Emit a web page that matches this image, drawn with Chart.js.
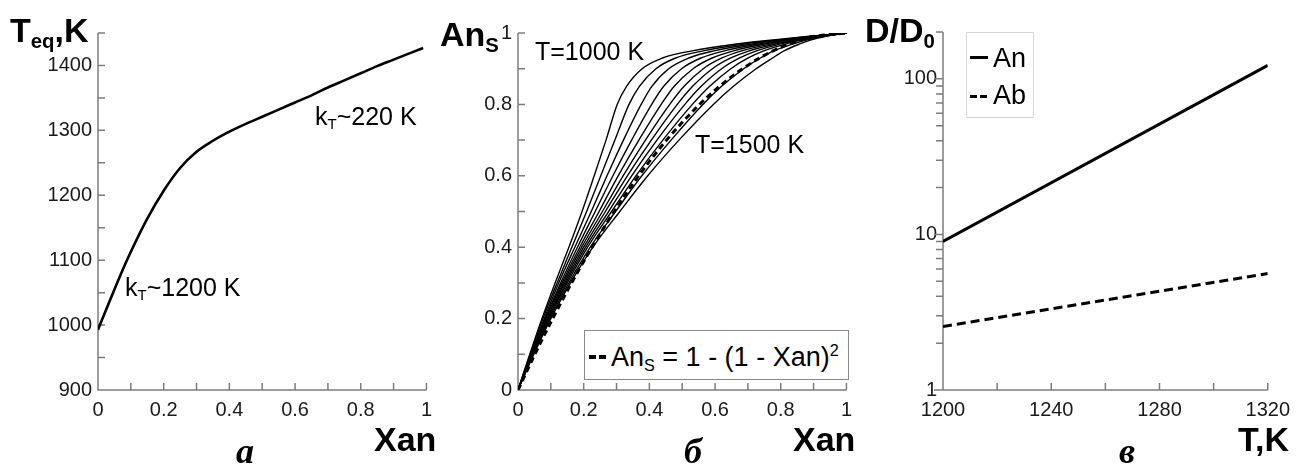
<!DOCTYPE html>
<html>
<head>
<meta charset="utf-8">
<script src="https://cdn.jsdelivr.net/npm/chart.js@4.4.1/dist/chart.umd.min.js"></script>
<style>
html, body { margin: 0; padding: 0; background: #fff; }
#fig { position: relative; width: 1298px; height: 464px; overflow: hidden;
       font-family: "Liberation Sans", Arial, sans-serif; color: #000; }
#fig canvas { position: absolute; top: 0; }
.t { position: absolute; line-height: 1; white-space: nowrap; }
.ttl { font-weight: bold; font-size: 34px; }
.ann { font-size: 25px; }
.leg { font-size: 27px; }
.let { font-family: "Liberation Serif", serif; font-weight: bold; font-style: italic;
       font-size: 36px; width: 40px; text-align: center; }
sub { font-size: 0.6em; vertical-align: -0.28em; line-height: 0; }
sup { font-size: 0.6em; vertical-align: 0.6em; line-height: 0; }
.box { position: absolute; background: #fff; box-sizing: border-box; }
.mk { position: absolute; background: #000; }
</style>
</head>
<body>
<div id="fig">
  <canvas id="cA" width="440" height="464" style="left:0px;width:440px;height:464px"></canvas>
  <canvas id="cB" width="420" height="464" style="left:440px;width:420px;height:464px"></canvas>
  <canvas id="cC" width="438" height="464" style="left:860px;width:438px;height:464px"></canvas>

  <!-- panel а -->
  <div class="t ttl" style="left:10px;top:13px">T<sub>eq</sub>,K</div>
  <div class="t ttl" style="left:374px;top:422px">Xan</div>
  <div class="t ann" style="left:315px;top:104px">k<sub>T</sub>~220 K</div>
  <div class="t ann" style="left:125px;top:275px">k<sub>T</sub>~1200 K</div>
  <div class="t let" style="left:225px;top:433px">а</div>

  <!-- panel б -->
  <div class="t ttl" style="left:440px;top:17px">An<sub>S</sub></div>
  <div class="t ttl" style="left:793px;top:422px">Xan</div>
  <div class="t ann" style="left:535px;top:39px">T=1000 K</div>
  <div class="t ann" style="left:695px;top:132px">T=1500 K</div>
  <div class="t let" style="left:673px;top:433px">б</div>
  <div class="box" style="left:584px;top:330px;width:265px;height:50px;border:1px solid #8a8a8a"></div>
  <div class="mk" style="left:589px;top:355px;width:7px;height:3.5px"></div>
  <div class="mk" style="left:599px;top:355px;width:7px;height:3.5px"></div>
  <div class="t leg" style="left:611px;top:344px">An<sub>S</sub> = 1 - (1 - Xan)<sup>2</sup></div>

  <!-- panel в -->
  <div class="t ttl" style="left:865px;top:13px">D/D<sub>0</sub></div>
  <div class="t ttl" style="left:1238px;top:422px">T,K</div>
  <div class="t let" style="left:1107px;top:433px">в</div>
  <div class="box" style="left:966px;top:32px;width:68px;height:86px;border:1px solid #d8d8d8"></div>
  <div class="mk" style="left:970px;top:56px;width:18px;height:3px"></div>
  <div class="t leg" style="left:993px;top:45px">An</div>
  <div class="mk" style="left:970px;top:95px;width:7px;height:3px"></div>
  <div class="mk" style="left:980px;top:95px;width:7px;height:3px"></div>
  <div class="t leg" style="left:993px;top:82px">Ab</div>
</div>

<script>
// ---- panel а: equilibrium temperature vs anatase fraction ----
const xanA = [0, 0.025, 0.05, 0.075, 0.1, 0.15, 0.2, 0.25, 0.3, 0.35, 0.4, 0.45,
              0.5, 0.55, 0.6, 0.65, 0.7, 0.75, 0.8, 0.85, 0.9, 0.95, 0.99];
const teqA = [993, 1024, 1055, 1085, 1113, 1164, 1207, 1242, 1267, 1284, 1298, 1310,
              1321, 1332, 1343, 1354, 1366, 1377, 1388, 1399, 1409, 1419, 1427];
const ticksXA = [0, 0.2, 0.4, 0.6, 0.8, 1];
const ticksYA = [900, 1000, 1100, 1200, 1300, 1400];

// ---- panel б: bulk fraction Xan reached at each surface fraction An_S ----
const anSLevels = [0, 0.1, 0.2, 0.3, 0.4, 0.5, 0.6, 0.7, 0.8, 0.85, 0.9, 0.93, 0.95, 0.97, 0.98, 0.99, 1];
const xan1000 = [0, 0.036, 0.073, 0.113, 0.155, 0.195, 0.232, 0.268, 0.302, 0.330, 0.378, 0.440, 0.530, 0.670, 0.770, 0.880, 1];
const xan1050 = [0, 0.037, 0.076, 0.119, 0.164, 0.209, 0.252, 0.295, 0.338, 0.369, 0.420, 0.480, 0.564, 0.693, 0.784, 0.887, 1];
const xan1100 = [0, 0.039, 0.080, 0.124, 0.173, 0.223, 0.271, 0.321, 0.375, 0.407, 0.459, 0.520, 0.597, 0.716, 0.799, 0.893, 1];
const xan1150 = [0, 0.040, 0.083, 0.130, 0.181, 0.235, 0.289, 0.346, 0.407, 0.443, 0.498, 0.557, 0.628, 0.737, 0.812, 0.899, 1];
const xan1200 = [0, 0.041, 0.085, 0.134, 0.188, 0.247, 0.305, 0.368, 0.436, 0.475, 0.533, 0.591, 0.656, 0.756, 0.824, 0.905, 1];
const xan1250 = [0, 0.043, 0.088, 0.138, 0.194, 0.257, 0.320, 0.388, 0.462, 0.505, 0.564, 0.621, 0.681, 0.773, 0.835, 0.910, 1];
const xan1300 = [0, 0.043, 0.090, 0.142, 0.200, 0.266, 0.333, 0.406, 0.485, 0.531, 0.592, 0.648, 0.704, 0.788, 0.844, 0.914, 1];
const xan1350 = [0, 0.044, 0.092, 0.146, 0.206, 0.276, 0.346, 0.423, 0.508, 0.557, 0.620, 0.675, 0.726, 0.803, 0.854, 0.919, 1];
const xan1400 = [0, 0.045, 0.094, 0.150, 0.212, 0.285, 0.359, 0.441, 0.531, 0.583, 0.648, 0.701, 0.748, 0.818, 0.864, 0.923, 1];
const xan1450 = [0, 0.047, 0.097, 0.155, 0.220, 0.297, 0.377, 0.466, 0.563, 0.619, 0.687, 0.738, 0.779, 0.839, 0.877, 0.929, 1];
const xan1500 = [0, 0.048, 0.100, 0.160, 0.228, 0.310, 0.395, 0.490, 0.595, 0.655, 0.725, 0.775, 0.810, 0.860, 0.890, 0.935, 1];
// An_S = 1 - (1 - Xan)^2, tabulated as Xan = 1 - sqrt(1 - An_S)
const xanRef = [0, 0.0513, 0.1056, 0.1633, 0.2254, 0.2929, 0.3675, 0.4523, 0.5528, 0.6127, 0.6838, 0.7354, 0.7764, 0.8268, 0.8586, 0.9, 1];
const ticksXB = [0, 0.2, 0.4, 0.6, 0.8, 1];
const ticksYB = [0, 0.2, 0.4, 0.6, 0.8, 1];

// ---- panel в: relative diffusion coefficient vs temperature ----
const tempC = [1200, 1320];
const dAn = [9.0, 122];
const dAb = [2.56, 5.6];
const ticksXC = [1200, 1240, 1280, 1320];
const ticksYC = [1, 10, 100];

const pts = (xs, ys) => xs.map((x, i) => ({ x, y: ys[i] }));

// axis lines with short tick marks, placed through the chart's own scales
const frame = {
  id: 'frame',
  beforeDatasetsDraw(chart, _args, o) {
    const { ctx, chartArea: ca } = chart;
    const xs = chart.scales.x, ys = chart.scales.y;
    ctx.save();
    ctx.strokeStyle = '#7d7d7d';
    ctx.lineWidth = 1.5;
    ctx.beginPath();
    ctx.moveTo(ca.left, ca.top);
    ctx.lineTo(ca.left, ca.bottom);
    ctx.lineTo(ca.right, ca.bottom);
    o.xMarks.forEach(v => {
      const p = xs.getPixelForValue(v);
      ctx.moveTo(p, ca.bottom);
      ctx.lineTo(p, ca.bottom - 7);
    });
    o.yMarks.forEach(v => {
      const p = ys.getPixelForValue(v);
      const len = (o.yMajor && o.yMajor.includes(v)) ? 9 : 7;
      if (o.yOut) { ctx.moveTo(ca.left - len, p); ctx.lineTo(ca.left, p); }
      else { ctx.moveTo(ca.left, p); ctx.lineTo(ca.left + 7, p); }
    });
    ctx.stroke();
    ctx.restore();
  }
};

const tickFont = { family: '"Liberation Sans", Arial, sans-serif', size: 20 };
const fixW = w => s => { s.width = w; };
const fixH = h => s => { s.height = h; };

function baseOptions(pad, yWidth) {
  return {
    responsive: false,
    animation: false,
    devicePixelRatio: 1,
    layout: { padding: pad },
    plugins: { legend: { display: false }, tooltip: { enabled: false } },
    elements: { point: { radius: 0 } },
    scales: {
      x: {
        type: 'linear',
        grid: { display: false, drawTicks: false },
        border: { display: false },
        afterFit: fixH(30),
        ticks: { font: tickFont, color: '#1a1a1a', padding: 8, maxRotation: 0, autoSkip: false }
      },
      y: {
        type: 'linear',
        grid: { display: false, drawTicks: false },
        border: { display: false },
        afterFit: fixW(yWidth),
        ticks: { font: tickFont, color: '#1a1a1a', padding: 6, autoSkip: false }
      }
    }
  };
}

const onlyTicks = list => (v => list.some(t => Math.abs(t - v) < 1e-9) ? String(+v.toFixed(4)) : '');

// panel а
const optA = baseOptions({ left: 0, right: 12, top: 33, bottom: 44 }, 98);
Object.assign(optA.scales.x, { min: 0, max: 1 });
Object.assign(optA.scales.x.ticks, { stepSize: 0.2, callback: onlyTicks(ticksXA) });
Object.assign(optA.scales.y, { min: 900, max: 1450 });
Object.assign(optA.scales.y.ticks, { stepSize: 100, callback: onlyTicks(ticksYA) });
optA.plugins.frame = {
  xMarks: [0, 0.1, 0.2, 0.3, 0.4, 0.5, 0.6, 0.7, 0.8, 0.9, 1],
  yMarks: [900, 950, 1000, 1050, 1100, 1150, 1200, 1250, 1300, 1350, 1400, 1450]
};
new Chart(document.getElementById('cA'), {
  type: 'line',
  data: { datasets: [{ data: pts(xanA, teqA), borderColor: '#000', borderWidth: 2.6,
                       cubicInterpolationMode: 'monotone', fill: false }] },
  options: optA,
  plugins: [frame]
});

// panel б
const optB = baseOptions({ left: 0, right: 11, top: 33, bottom: 44 }, 78);
Object.assign(optB.scales.x, { min: 0, max: 1 });
Object.assign(optB.scales.x.ticks, { stepSize: 0.2, callback: onlyTicks(ticksXB) });
Object.assign(optB.scales.y, { min: 0, max: 1 });
Object.assign(optB.scales.y.ticks, { stepSize: 0.2, callback: onlyTicks(ticksYB) });
optB.plugins.frame = {
  xMarks: [0, 0.1, 0.2, 0.3, 0.4, 0.5, 0.6, 0.7, 0.8, 0.9, 1],
  yMarks: [0, 0.1, 0.2, 0.3, 0.4, 0.5, 0.6, 0.7, 0.8, 0.9, 1]
};
const familyB = [xan1000, xan1050, xan1100, xan1150, xan1200, xan1250,
                 xan1300, xan1350, xan1400, xan1450, xan1500];
const dsB = familyB.map(xs => ({
  data: pts(xs, anSLevels), borderColor: '#000', borderWidth: 1.4,
  cubicInterpolationMode: 'monotone', fill: false
}));
dsB.push({ data: pts(xanRef, anSLevels), borderColor: '#000', borderWidth: 3,
           borderDash: [6, 4], cubicInterpolationMode: 'monotone', fill: false });
new Chart(document.getElementById('cB'), {
  type: 'line',
  data: { datasets: dsB },
  options: optB,
  plugins: [frame]
});

// panel в
const optC = baseOptions({ left: 0, right: 25, top: 32, bottom: 44 }, 83);
Object.assign(optC.scales.x, { min: 1200, max: 1320 });
Object.assign(optC.scales.x.ticks, { stepSize: 40, callback: onlyTicks(ticksXC) });
Object.assign(optC.scales.y, { type: 'logarithmic', min: 1, max: 200 });
Object.assign(optC.scales.y.ticks, { callback: onlyTicks(ticksYC) });
optC.plugins.frame = {
  xMarks: [1200, 1220, 1240, 1260, 1280, 1300, 1320],
  yMarks: [1, 2, 3, 4, 5, 6, 7, 8, 9, 10, 20, 30, 40, 50, 60, 70, 80, 90, 100, 200],
  yMajor: [1, 10, 100],
  yOut: true
};
new Chart(document.getElementById('cC'), {
  type: 'line',
  data: { datasets: [
    { data: pts(tempC, dAn), borderColor: '#000', borderWidth: 3, fill: false },
    { data: pts(tempC, dAb), borderColor: '#000', borderWidth: 3, borderDash: [9, 5], fill: false }
  ] },
  options: optC,
  plugins: [frame]
});
</script>
</body>
</html>
